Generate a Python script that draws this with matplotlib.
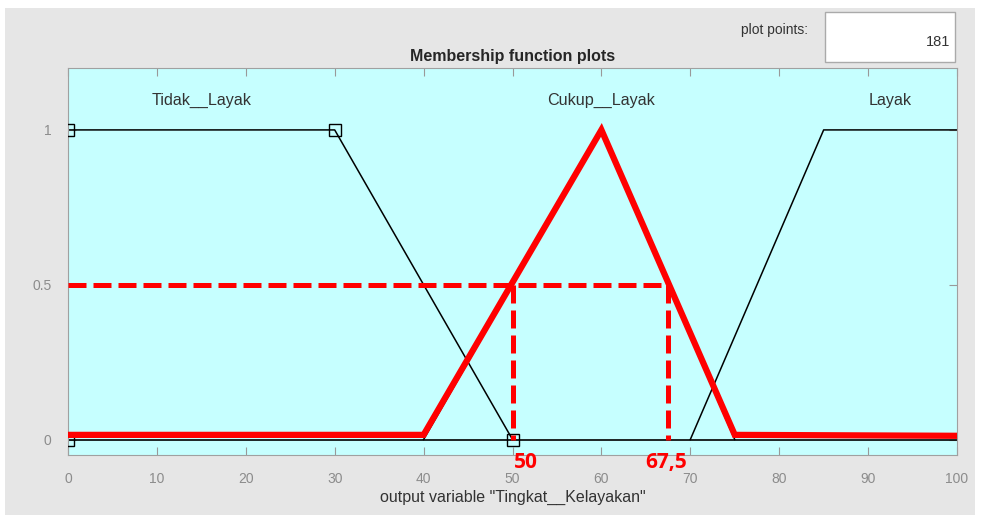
import matplotlib
matplotlib.use("Agg")
import matplotlib.pyplot as plt  # noqa: E402
from matplotlib.patches import Rectangle  # noqa: E402

# membership functions (output variable)
tidak_x = [0, 30, 50]
tidak_y = [1, 1, 0]
cukup_x = [40, 60, 75]
cukup_y = [0, 1, 0]
layak_x = [70, 85, 100]
layak_y = [0, 1, 1]

# highlighted (red) curve and cut lines
red_x = [0, 40, 60, 75, 100]
red_y = [0.015, 0.015, 1, 0.015, 0.012]
cut_level = 0.5
cut_left = 50
cut_right = 67.5
cut_labels = ["50", "67,5"]

mf_names = ["Tidak__Layak", "Cukup__Layak", "Layak"]
mf_label_x = [15, 60, 92.5]

xticks = list(range(0, 101, 10))
yticks = [0, 0.5, 1]
ytick_labels = ["0", "0.5", "1"]

FONT = ["Liberation Sans", "DejaVu Sans"]
plt.rcParams["font.family"] = FONT

fig = plt.figure(figsize=(9.81, 5.2), dpi=100, facecolor="white")
fig.patches.append(Rectangle((5 / 981, 5 / 520), 970 / 981, 507 / 520,
                             transform=fig.transFigure, facecolor="#e6e6e6",
                             edgecolor="none", zorder=-10))

ax = fig.add_axes([68 / 981, 1 - 455 / 520, 889 / 981, 387 / 520])
ax.set_facecolor("#c6ffff")
ax.set_xlim(0, 100)
ax.set_ylim(-0.05, 1.2)

# baseline
ax.plot([0, 100], [0, 0], color="black", lw=1.2, zorder=2)

# black MFs
ax.plot(tidak_x, tidak_y, color="black", lw=1.1, zorder=2)
ax.plot(cukup_x, cukup_y, color="black", lw=1.1, zorder=2)
ax.plot(layak_x, layak_y, color="black", lw=1.1, zorder=2)
ax.plot([0, 30, 0, 50], [1, 1, 0, 0], ls="none", marker="s", ms=8,
        mfc="none", mec="black", mew=1.0, zorder=3, clip_on=True)

# red curve
ax.plot(red_x, red_y, color="#ff0000", lw=4.5, solid_joinstyle="miter", zorder=4)

# dashed cut lines
dash = (3.6, 1.4)
ax.plot([0, cut_right], [cut_level, cut_level], color="#ff0000", lw=3.6,
        dashes=dash, zorder=5)
ax.plot([cut_left, cut_left], [cut_level, 0], color="#ff0000", lw=3.6,
        dashes=dash, zorder=5)
ax.plot([cut_right, cut_right], [cut_level, 0], color="#ff0000", lw=3.6,
        dashes=dash, zorder=5)

ax.text(cut_left + 0.2, -0.075, cut_labels[0], color="#ff0000", fontsize=15,
        fontweight="bold", ha="left", va="center", clip_on=False, zorder=6,
        family=["Open Sans", "DejaVu Sans"])
ax.text(cut_right - 0.2, -0.075, cut_labels[1], color="#ff0000", fontsize=15,
        fontweight="bold", ha="center", va="center", clip_on=False, zorder=6,
        family=["Open Sans", "DejaVu Sans"])

for name, x in zip(mf_names, mf_label_x):
    ax.text(x, 1.095, name, fontsize=11.6, ha="center", va="center", color="#333333")

ax.set_xticks(xticks)
ax.set_yticks(yticks)
ax.set_yticklabels(ytick_labels)
ax.tick_params(direction="in", length=6, color="#999999", labelcolor="#8c8c8c",
               labelsize=10, top=True, right=True, pad=12)
for s in ax.spines.values():
    s.set_color("#a0a0a0")

ax.set_title("Membership function plots", fontsize=11.5, fontweight="bold",
             pad=5, color="#262626")
ax.set_xlabel('output variable "Tingkat__Kelayakan"', fontsize=11.5,
              color="#333333", labelpad=3)

# plot points box
fig.text(808 / 981, 1 - 30 / 520, "plot points:", fontsize=10, ha="right",
         va="center", color="#333333")
fig.patches.append(Rectangle((825 / 981, 1 - 62 / 520), 130 / 981, 50 / 520,
                             transform=fig.transFigure, facecolor="white",
                             edgecolor="#aaaaaa", lw=1, zorder=1))
fig.text(950 / 981, 1 - 42 / 520, "181", fontsize=10.5, ha="right",
         va="center", color="#333333")

fig.savefig("out.png", dpi=100)
